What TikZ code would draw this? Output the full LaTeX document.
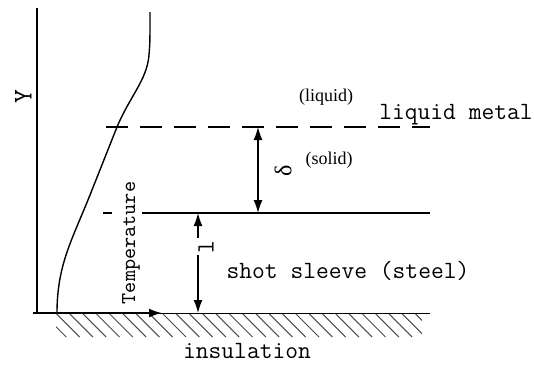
\documentclass[tikz,border=0pt]{standalone}
\usepackage{fontspec}
\setmainfont{Liberation Serif}
\usetikzlibrary{arrows.meta}
\tikzset{
  every picture/.style={line width=0.8pt},
  tip/.style={-{Latex[length=6.5pt, width=4.5pt]}},
  dimline/.style={{Latex[length=6.5pt, width=4.5pt]}-{Latex[length=6.5pt, width=4.5pt]}, line width=0.7pt},
  tt/.style={font=\ttfamily\fontsize{12.4}{13}\selectfont, inner sep=0pt},
  rm/.style={font=\fontsize{9}{10}\selectfont, inner sep=0pt},
  hatch/.style={line width=0.5pt, draw=black!70},
}
\begin{document}
\begin{tikzpicture}[x=0.5pt, y=-0.5pt]
  \useasboundingbox (0,0) rectangle (534,365);
  % insulation hatching
  \begin{scope}
    \clip (56,314) rectangle (422,337);
    \foreach \h in {30,43.3,...,422} \draw[hatch] (\h,314) -- ++(23,23);
  \end{scope}
  % axes
  \coordinate (o) at (37,313);
  \coordinate (ytop) at (37,8);
  \coordinate (tstart) at (33,313);
  \coordinate (tend) at (162,313);
  \draw (o) -- (ytop);
  \draw[line width=0.5pt] (tstart) -- (430,313);
  \draw[tip, line width=1pt] (tstart) -- (tend);
  % temperature profile
  \draw[line width=0.7pt] (57,313) .. controls (57,265) and (72,240) .. (90,195)
    -- (117,127) .. controls (130,96) and (147,80) .. (149,55)
    .. controls (150,42) .. (150,12);
  % interfaces
  \draw[dash pattern=on 11pt off 6pt] (106,127) -- (430,127);
  \draw (103,213) -- (112,213) (142,213) -- (430,213);
  % dimensions
  \coordinate (d1) at (258,127);
  \coordinate (d2) at (258,213);
  \coordinate (s1) at (198,213);
  \coordinate (s2) at (198,313);
  \draw[dimline] (d1) -- (d2);
  \draw[dimline] (s1) -- (s2);
  \fill[white] (195,238) rectangle (201,255);
  % labels
  \node[tt, font=\ttfamily\fontsize{13.5}{14}\selectfont, rotate=90] (ylab) at (23.5,97) {Y};
  \node[tt, font=\ttfamily\fontsize{10.6}{11}\selectfont, rotate=90] (tlab) at (131,243) {Temperature};
  \node[rm] (liq) at (326,97) {(liquid)};
  \node[tt] (lm) at (456,115) {liquid metal};
  \node[rm] (sol) at (329,160) {(solid)};
  \node[rm, font=\fontsize{12}{13}\selectfont, rotate=90] (delta) at (283,171) {δ};
  \node[tt, rotate=90] (len) at (206,247) {l};
  \node[tt] (sleeve) at (348,271) {shot sleeve (steel)};
  \node[tt] (ins) at (247,351) {insulation};
\end{tikzpicture}
\end{document}
